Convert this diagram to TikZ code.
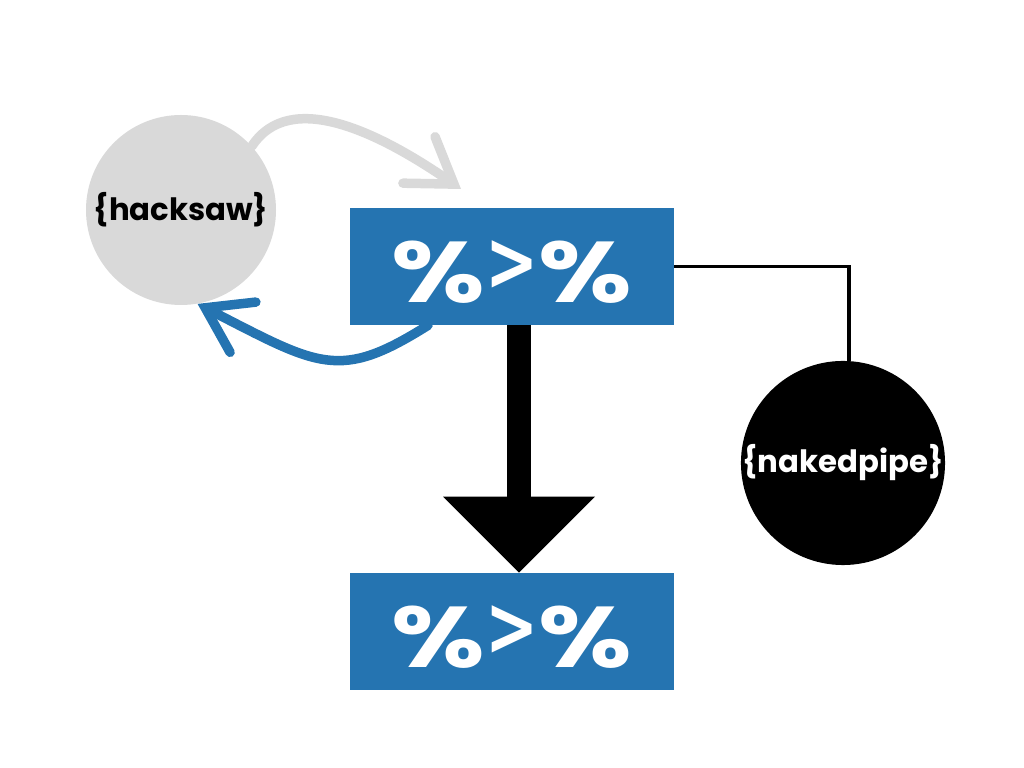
\documentclass[tikz,border=0pt]{standalone}
\usepackage{fontspec}
\setmainfont{Poppins}
\newfontfamily\symfont{DejaVu Sans}
\usepackage{xcolor}
\usetikzlibrary{arrows.meta}
\definecolor{pipeblue}{RGB}{37,116,177}
\definecolor{sawgrey}{RGB}{217,217,217}
\newcommand{\pct}{\scalebox{1.25}[1]{\%}}
\newcommand{\pipeop}{\fontsize{49}{49}\selectfont\bfseries
  \raisebox{-0.11cm}[\height][\depth]{\pct{\symfont\fontsize{38}{38}\selectfont\raisebox{7pt}{\scalebox{0.95}[1.25]{>}}}\pct}}

\begin{document}
\begin{tikzpicture}[
  opbox/.style={fill=pipeblue, text=white, minimum width=6.48cm, minimum height=2.34cm, inner sep=0pt},
  pkg/.style={circle, inner sep=0pt, font=\fontsize{17.5}{17.5}\selectfont\bfseries},
  loop/.style={line width=0.19cm, line cap=round, -{Straight Barb[length=0.85cm, width=1.13cm, line cap=round]}}
]
\useasboundingbox (0,0) rectangle (20.48,15.36);

\node (H) at (3.62,11.16) [pkg, fill=sawgrey, minimum size=3.8cm] {\{hacksaw\}};
\node (T) at (10.24,10.03) [opbox] {\pipeop};
\node (B) at (10.24,2.73) [opbox] {\pipeop};
\node (N) at (16.86,6.10) [pkg, fill=black, text=white, minimum size=4.08cm] {\{nakedpipe\}};

\coordinate (Gend) at (9.22,11.58);

\draw [loop, sawgrey] (H.42) .. controls (5.8,13.6) and (7.6,12.7) .. (Gend);
\draw [loop, pipeblue] ([xshift=-1.68cm]T.south) .. controls (6.78,7.73) and (6.39,8.03) .. (H.-80);

\draw [line width=0.48cm, -{Triangle[width=3.04cm, length=1.52cm, line width=0pt]}] ([xshift=0.14cm]T.south) -- ([xshift=0.14cm]B.north);
\draw [line width=0.07cm] (T.east) -| ([xshift=0.12cm]N.north);
\end{tikzpicture}
\end{document}
